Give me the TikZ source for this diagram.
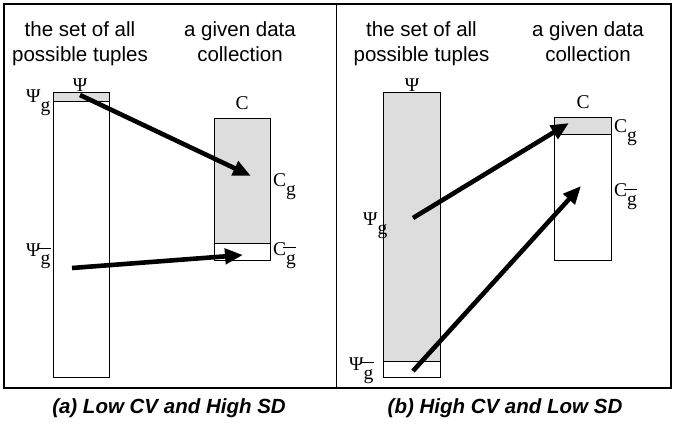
\documentclass[tikz,border=0pt]{standalone}
\usepackage{fontspec}
\setmainfont{Liberation Sans}
\newfontfamily\symfont{Liberation Serif}
\usetikzlibrary{arrows.meta}
\definecolor{shade}{RGB}{221,221,221}
% lowered subscript g, plain and barred
\newcommand\gsub{\raisebox{-9pt}{g}}
\newcommand\gbarsub{\makebox[0pt][l]{\hspace{-3pt}\raisebox{7pt}{\rule{13pt}{0.9pt}}}\raisebox{-9pt}{g}}
\tikzset{
  heading/.style={align=center, font=\fontsize{20.5}{25}\selectfont, anchor=north},
  caption/.style={font=\fontsize{20.5}{25}\selectfont\bfseries\itshape, anchor=base},
  sym/.style={font=\symfont\fontsize{19.5}{19.5}\selectfont, inner sep=0pt},
  part/.style={draw, line width=1.1pt, inner sep=0pt, anchor=north west},
  maps/.style={line width=4.6pt, -{Triangle[length=18pt,width=15pt]}},
}
\begin{document}
\begin{tikzpicture}[x=1pt, y=-1pt]
\useasboundingbox (0,0) rectangle (674,430);
% outer frame and divider
\draw[line width=1.2pt] (4,4) rectangle (671,388);
\draw[line width=1.2pt] (336.5,4) -- (336.5,388);

% ---------- panel (a) ----------
\node[heading] (ha1) at (80,18) {the set of all\\possible tuples};
\node[heading] (ha2) at (240,18) {a given data\\collection};
% tuple space
\node[part, minimum width=56pt, minimum height=285pt] (psiA) at (53,92) {};
\node[part, fill=shade, minimum width=56pt, minimum height=9pt] (psiAg) at (53,92) {};
\node[sym, anchor=base] (lpsiA) at (80,92) {Ψ};
\node[sym, anchor=base west] (lpsiAg) at (26,103) {Ψ\gsub};
\node[sym, anchor=base west] (lpsiAn) at (26,256) {Ψ\gbarsub};
% collection
\node[part, fill=shade, minimum width=56pt, minimum height=125pt] (cA) at (214,118) {};
\node[part, minimum width=56pt, minimum height=17pt] (cAn) at (214,243) {};
\node[sym, anchor=base] (lcA) at (242,110) {C};
\node[sym, anchor=base west] (lcAg) at (273,187) {C\gsub};
\node[sym, anchor=base west] (lcAn) at (273,255) {C\gbarsub};
% mappings
\coordinate (a1s) at (80,95);
\coordinate (a1e) at (251,176);
\coordinate (a2s) at (72,268);
\coordinate (a2e) at (243,255);
\draw[maps] (a1s) -- (a1e);
\draw[maps] (a2s) -- (a2e);

% ---------- panel (b) ----------
\node[heading] (hb1) at (421.5,18) {the set of all\\possible tuples};
\node[heading] (hb2) at (588,18) {a given data\\collection};
% tuple space
\node[part, fill=shade, minimum width=57pt, minimum height=269pt] (psiB) at (383,92) {};
\node[part, minimum width=57pt, minimum height=16pt] (psiBn) at (383,361) {};
\node[sym, anchor=base] (lpsiB) at (412,92) {Ψ};
\node[sym, anchor=base west] (lpsiBg) at (363,226) {Ψ\gsub};
\node[sym, anchor=base west] (lpsiBn) at (349,370) {Ψ\gbarsub};
% collection
\node[part, minimum width=57pt, minimum height=143pt] (cB) at (554,117) {};
\node[part, fill=shade, minimum width=57pt, minimum height=17pt] (cBg) at (554,117) {};
\node[sym, anchor=base] (lcB) at (583,109) {C};
\node[sym, anchor=base west] (lcBg) at (614,133) {C\gsub};
\node[sym, anchor=base west] (lcBn) at (614,197) {C\gbarsub};
% mappings
\coordinate (b1s) at (413,218);
\coordinate (b1e) at (569,123);
\coordinate (b2s) at (413,371);
\coordinate (b2e) at (581,186);
\draw[maps] (b1s) -- (b1e);
\draw[maps] (b2s) -- (b2e);

% captions
\node[caption] (capA) at (169,413) {(a) Low CV and High SD};
\node[caption] (capB) at (505,413) {(b) High CV and Low SD};
\end{tikzpicture}
\end{document}
